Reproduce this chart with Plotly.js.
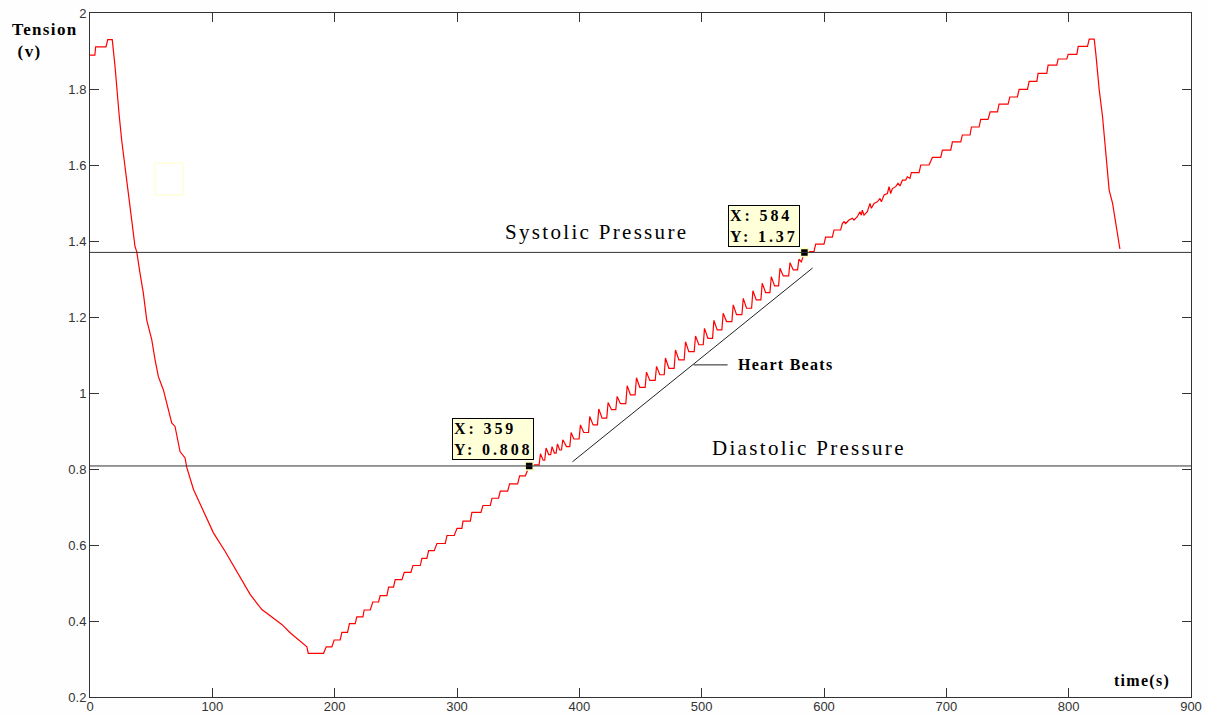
<!DOCTYPE html>
<html>
<head>
<meta charset="utf-8">
<script src="https://cdn.plot.ly/plotly-3.0.1.min.js"></script>
<style>
html,body{margin:0;padding:0;background:#fefefe;}
#chart{width:1207px;height:715px;}
text[style*="spaceA"]{letter-spacing:0.11em;}
text[style*="spaceB"]{letter-spacing:0.08em;}
text[style*="spaceC"]{letter-spacing:0.18em;}
</style>
</head>
<body>
<div id="chart"></div>
<script>
// ---- Data ----
// Initial plateau and cuff deflation fall
const fallX = [0,4.0,4.6,13.1,14.5,18.2,20.5,21.8,23.7,25.9,28.6,31.3,34.1,36.8,38.2,40.9,43.6,46.4,50.5,53.2,55.9,60.0,64.1,66.8,69.5,73.6,77.7,79.1,84.6,92.7,100.9,110.5,117.3,124.1,130.9,140.5,147.3,156.8,163.6,170.5,177.3,178.4,190.9];
const fallY = [1.889,1.889,1.911,1.911,1.930,1.930,1.858,1.801,1.736,1.665,1.600,1.525,1.455,1.385,1.372,1.315,1.263,1.192,1.140,1.087,1.043,1.008,0.956,0.921,0.912,0.846,0.829,0.804,0.746,0.689,0.632,0.583,0.544,0.509,0.470,0.430,0.413,0.391,0.369,0.351,0.332,0.315,0.315];

// Stepwise rise up to diastolic point (start, end, level of each step)
const stepStart = [193.1,199.6,205.9,212.1,218.1,224.1,231.2,237.2,244.1,249.5,256.9,264.0,271.3,276.8,283.6,291.8,300.0,304.9,312.2,321.2,328.6,335.4,343.0,351.2];
const stepEnd   = [197.7,204.5,210.5,216.8,223.1,229.1,235.9,242.7,248.1,255.0,262.3,270.0,275.4,281.4,290.4,297.8,304.0,310.9,319.6,327.2,334.0,341.4,349.6,355.9];
const stepLevel = [0.332,0.350,0.370,0.393,0.411,0.429,0.450,0.467,0.489,0.509,0.528,0.546,0.565,0.585,0.604,0.625,0.644,0.663,0.686,0.704,0.723,0.742,0.761,0.782];

// Heart-beat region (rise start, peak, valley for each beat)
const beatRiseX  = [367.1,371.7,376.6,381.0,385.4,392.2,399.8,407.5,414.8,422.4,429.8,438.0,445.6,453.8,462.0,469.4,477.5,485.7,493.9,501.3,508.9,516.5,524.7,532.9,540.8,548.4,555.8,562.9,571.1,578.4];
const beatPeakX  = [368.2,372.8,377.7,382.1,386.5,393.3,400.9,408.5,415.9,423.5,430.9,439.1,446.7,454.9,463.1,470.4,478.6,486.8,495.0,502.3,510.0,517.6,525.8,534.0,541.9,549.5,556.9,564.0,572.2,579.5];
const beatPeakY  = [0.840,0.855,0.859,0.866,0.877,0.896,0.916,0.938,0.958,0.975,0.991,1.019,1.040,1.055,1.070,1.092,1.113,1.135,1.150,1.170,1.191,1.210,1.232,1.249,1.269,1.289,1.306,1.328,1.343,1.352];
const beatValX   = [370.4,375.0,379.6,384.0,389.5,395.5,403.6,411.3,418.6,426.3,433.6,441.8,449.4,457.6,465.8,473.2,481.4,489.5,497.7,505.1,512.7,520.3,528.5,536.7,544.6,552.3,559.6,566.7,574.9,581.5];
const beatValY   = [0.823,0.838,0.842,0.850,0.859,0.879,0.896,0.916,0.934,0.956,0.972,0.995,1.015,1.033,1.048,1.065,1.087,1.109,1.127,1.144,1.166,1.188,1.206,1.223,1.245,1.264,1.282,1.308,1.324,1.345];

// After systolic point: rise to the top and fast release
const riseX = [584.2,591.8,593.2,600.0,601.3,606.8,608.2,613.6,615.0,616.3,617.7,620.4,623.2,624.5,627.2,629.4,630.5,631.3,632.7,635.4,637.6,638.7,640.9,643.6,645.8,646.9,649.1,651.8,653.2,654.5,655.9,658.6,660.5,662.1,664.1,666.8,668.1,670.3,671.4,677.7,679.1,685.9,688.6,695.4,696.8,703.6,705.0,711.8,713.1,719.4,720.5,726.8,728.1,734.1,735.8,741.8,743.1,750.5,751.9,758.1,759.5,766.3,767.7,774.0,775.0,782.1,783.2,790.3,791.4,798.5,799.6,806.7,807.8,815.4,816.8,820.9,822.2,825.0,827.7,830.4,833.1,835.9,838.6,841.3,841.9];
const riseY = [1.372,1.372,1.392,1.392,1.410,1.410,1.429,1.429,1.446,1.451,1.446,1.455,1.460,1.455,1.464,1.477,1.468,1.481,1.468,1.477,1.499,1.486,1.499,1.503,1.512,1.503,1.521,1.525,1.543,1.525,1.538,1.543,1.552,1.545,1.560,1.560,1.569,1.565,1.580,1.580,1.600,1.600,1.620,1.620,1.639,1.639,1.661,1.661,1.679,1.679,1.700,1.700,1.720,1.720,1.740,1.740,1.760,1.760,1.779,1.779,1.799,1.799,1.820,1.820,1.841,1.841,1.863,1.863,1.879,1.879,1.891,1.891,1.912,1.912,1.931,1.931,1.893,1.797,1.727,1.622,1.534,1.499,1.446,1.394,1.379];

// Reference levels and data tips
const systolicLevel = 1.37;
const diastolicLevel = 0.808;
const tipX = [359, 584];
const tipY = [0.808, 1.37];
const tipText = ['X: 359<br>Y: 0.808', 'X: 584<br>Y: 1.37'];

// Tick labels
const xTicks = [0,100,200,300,400,500,600,700,800,900];
const yTicks = [0.2,0.4,0.6,0.8,1,1.2,1.4,1.6,1.8,2];
const yTickText = ['0.2','0.4','0.6','0.8','1','1.2','1.4','1.6','1.8','2'];

// Annotation anchors (data units)
const heartLineX = [394.4, 590.7];
const heartLineY = [0.819, 1.329];
const heartLeaderX = [493.4, 521.2];
const heartLeaderY = 1.074;

// ---- Build the full curve ----
const curveX = [], curveY = [];
fallX.forEach((x,i)=>{curveX.push(x);curveY.push(fallY[i]);});
stepStart.forEach((s,i)=>{curveX.push(s,stepEnd[i]);curveY.push(stepLevel[i],stepLevel[i]);});
curveX.push(tipX[0], 363.0); curveY.push(tipY[0], 0.811);
let prev = 0.811;
beatRiseX.forEach((r,i)=>{
  curveX.push(r, beatPeakX[i], beatValX[i]);
  curveY.push(prev, beatPeakY[i], beatValY[i]);
  prev = beatValY[i];
});
riseX.forEach((x,i)=>{curveX.push(x);curveY.push(riseY[i]);});

const serifA = '"Liberation Serif", spaceA, serif';
const serifB = '"Liberation Serif", spaceB, serif';
const serifC = '"Liberation Serif", spaceC, serif';
const sans = '"Liberation Sans", Arial, sans-serif';

const traces = [
  {x: curveX, y: curveY, type:'scatter', mode:'lines',
   line:{color:'#ff0000', width:1.2}, hoverinfo:'skip', showlegend:false},
  {x: tipX, y: tipY, type:'scatter', mode:'markers',
   marker:{symbol:'square', size:8, color:'#000', line:{color:'#ffffc0', width:1.5}},
   hoverinfo:'skip', showlegend:false}
];

const layout = {
  width:1207, height:715,
  margin:{l:90, r:16, t:13, b:18},
  paper_bgcolor:'#fefefe', plot_bgcolor:'#ffffff',
  showlegend:false,
  xaxis:{range:[0,900], tickvals:xTicks, ticks:'inside', ticklen:9, tickcolor:'#333',
         showline:true, linecolor:'#333', linewidth:1, mirror:'ticks',
         showgrid:false, zeroline:false, ticklabelstandoff:-3,
         tickfont:{family:sans, size:13, color:'#333'}},
  yaxis:{range:[0.2,2], tickvals:yTicks, ticktext:yTickText, ticks:'inside', ticklen:9, tickcolor:'#333',
         showline:true, linecolor:'#333', linewidth:1, mirror:'ticks',
         showgrid:false, zeroline:false,
         tickfont:{family:sans, size:13, color:'#333'}},
  shapes:[
    {type:'line', xref:'paper', x0:0, x1:1, yref:'y', y0:systolicLevel, y1:systolicLevel, line:{color:'#333', width:1}},
    {type:'line', xref:'paper', x0:0, x1:1, yref:'y', y0:diastolicLevel, y1:diastolicLevel, line:{color:'#333', width:1}},
    {type:'line', xref:'x', yref:'y', x0:heartLineX[0], x1:heartLineX[1], y0:heartLineY[0], y1:heartLineY[1], line:{color:'#222', width:1}},
    {type:'line', xref:'x', yref:'y', x0:heartLeaderX[0], x1:heartLeaderX[1], y0:heartLeaderY, y1:heartLeaderY, line:{color:'#222', width:1}},
    {type:'rect', xref:'x', yref:'y', x0:53.2, x1:76.1, y0:1.521, y1:1.605, line:{color:'#ffffc8', width:1}}
  ],
  annotations:[
    {xref:'paper', yref:'paper', x:-0.0727, y:0.992, xanchor:'left', yanchor:'top', showarrow:false, align:'left',
     text:'<b>Tension</b><br><b>&nbsp;(v)</b>', font:{family:serifB, size:17, color:'#000'}},
    {xref:'paper', yref:'paper', x:0.9827, y:0.0, xanchor:'right', yanchor:'bottom', yshift:5, showarrow:false,
     text:'<b>time(s)</b>', font:{family:serifB, size:16, color:'#000'}},
    {xref:'x', yref:'y', x:414, y:systolicLevel, yanchor:'bottom', yshift:6, showarrow:false,
     text:'Systolic Pressure', font:{family:serifA, size:21, color:'#000'}},
    {xref:'x', yref:'y', x:587.5, y:diastolicLevel, yanchor:'bottom', yshift:4, showarrow:false,
     text:'Diastolic Pressure', font:{family:serifA, size:21, color:'#000'}},
    {xref:'x', yref:'y', x:heartLeaderX[1], y:heartLeaderY, xanchor:'left', xshift:8, showarrow:false,
     text:'<b>Heart Beats</b>', font:{family:serifB, size:16, color:'#000'}},
    {xref:'x', yref:'y', x:tipX[0], y:tipY[0], xanchor:'right', yanchor:'bottom', xshift:5, yshift:6, showarrow:false,
     align:'left', text:'<b>'+tipText[0]+'</b>', font:{family:serifC, size:16, color:'#000'},
     bgcolor:'#ffffd8', bordercolor:'#000', borderwidth:1, borderpad:1},
    {xref:'x', yref:'y', x:tipX[1], y:tipY[1], xanchor:'right', yanchor:'bottom', xshift:-4, yshift:5, showarrow:false,
     align:'left', text:'<b>'+tipText[1]+'</b>', font:{family:serifC, size:16, color:'#000'},
     bgcolor:'#ffffd8', bordercolor:'#000', borderwidth:1, borderpad:1}
  ]
};

Plotly.newPlot('chart', traces, layout, {displayModeBar:false, staticPlot:true});
</script>
</body>
</html>
